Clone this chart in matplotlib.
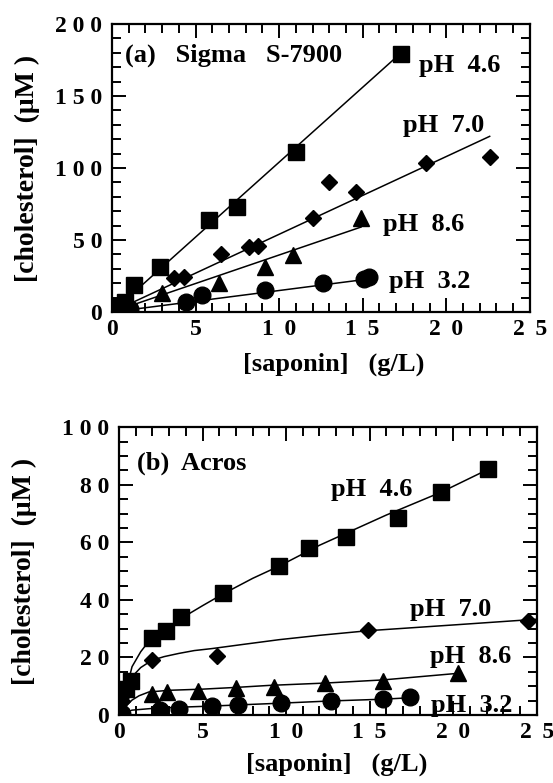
import numpy as np
import matplotlib.pyplot as plt
from matplotlib.ticker import MultipleLocator, FixedLocator, FixedFormatter

plt.rcParams['font.family'] = ['Liberation Serif', 'DejaVu Serif']
plt.rcParams['font.weight'] = 'bold'

# ---- panel (a) Sigma S-7900 ----
a46_x = [0.2, 0.5, 0.8, 1.3, 2.9, 5.8, 7.5, 11.0, 17.3]
a46_y = [1, 4, 7, 18.5, 31.5, 64, 73, 111, 179.5]
a70_x = [0.3, 0.6, 1.0, 3.7, 4.3, 6.5, 8.2, 8.75, 12.0, 13.0, 14.6, 18.8, 22.6]
a70_y = [1, 3, 5, 23.5, 24.5, 40, 45, 46, 65, 90, 83.5, 103.5, 108]
a86_x = [0.4, 1.0, 3.0, 6.4, 9.15, 10.85, 14.9]
a86_y = [1, 4, 13, 20.5, 31.5, 39.5, 65]
a32_x = [0.1, 0.3, 0.6, 1.1, 4.4, 5.4, 9.15, 12.6, 15.1, 15.4]
a32_y = [0, 0.5, 1, 2, 7, 12, 15, 20, 23, 24]
# straight fit lines, from the origin to these ends
a_fit_end = {'4.6': (17.3, 180), '7.0': (22.6, 122), '8.6': (14.9, 59), '3.2': (15.4, 23)}

# ---- panel (b) Acros ----
b46_x = [0.4, 0.7, 1.96, 2.8, 3.7, 6.2, 9.6, 11.4, 13.6, 16.7, 19.3, 22.1]
b46_y = [9, 12, 26.7, 29.3, 34.2, 42.5, 51.8, 57.9, 62, 68.4, 77.6, 85.4]
b70_x = [0.1, 0.2, 0.4, 0.6, 1.96, 5.85, 14.9, 24.5]
b70_y = [2, 5, 8, 11, 19, 20.5, 29.5, 32.8]
b86_x = [0.15, 2.0, 2.9, 4.7, 7.0, 9.25, 12.3, 15.8, 20.3]
b86_y = [1, 7.3, 8.0, 8.5, 9.5, 9.9, 11, 11.9, 14.7]
b32_x = [0.2, 2.45, 3.6, 5.55, 7.1, 9.7, 12.7, 15.8, 17.4]
b32_y = [0.5, 1.8, 2.0, 3.0, 3.5, 4.1, 5.0, 5.5, 6.1]
# fitted curves
b46_cx = [0.02, 0.3, 0.58, 0.78, 1.3, 1.9, 2.8, 3.7, 5.0, 6.2, 8.0, 9.6, 12.0, 16.0, 19.3, 22.1]
b46_cy = [0, 7, 12.2, 16.8, 22, 26.5, 30, 33.5, 38, 42, 47.5, 51.8, 59, 69.5, 77.5, 85.4]
b70_cx = [0.02, 0.3, 0.78, 1.3, 1.96, 2.7, 3.57, 4.5, 5.57, 7.37, 9.6, 12.0, 14.9, 20.0, 25.0]
b70_cy = [1, 8, 13.3, 16.5, 19, 20.3, 21.4, 22.4, 23.1, 24.5, 26.2, 27.7, 29.3, 31.3, 33.3]
b86_cx = [0.02, 0.4, 0.78, 1.2, 1.78, 3.0, 5.0, 7.0, 9.0, 12.3, 15.8, 20.3]
b86_cy = [0.5, 3, 5.2, 6.7, 8.0, 8.6, 9.0, 9.6, 10.3, 11.1, 12.2, 14.5]
b32_cx = [0.1, 0.78, 2.0, 3.5, 5.5, 7.5, 9.6, 12.7, 15.8, 17.4]
b32_cy = [0.3, 1.7, 2.3, 2.7, 3.1, 3.6, 4.1, 4.9, 5.5, 6.0]

x_ticks = [0, 5, 10, 15, 20, 25]
x_labels = ['0', '5', '1 \u20090', '1 \u20095', '2 \u20090', '2 \u20095']
a_yticks = [0, 50, 100, 150, 200]
a_ylabels = ['0', '5 0', '1 0 0', '1 5 0', '2 0 0']
b_yticks = [0, 20, 40, 60, 80, 100]
b_ylabels = ['0', '2 0', '4 0', '6 0', '8 0', '1 0 0']

fig = plt.figure(figsize=(5.53, 7.83), dpi=100)
ax1 = fig.add_axes([0.2025, 0.6015, 0.7555, 0.3678])
ax2 = fig.add_axes([0.2152, 0.0868, 0.7553, 0.3675])

mk = dict(color='black', linestyle='none')
lw_fit = 1.1

# panel a
for key, (xe, ye) in a_fit_end.items():
    ax1.plot([0, xe], [0, ye], color='black', lw=lw_fit)
ax1.plot(a46_x, a46_y, marker='s', ms=12, **mk)
ax1.plot(a70_x, a70_y, marker='D', ms=8, **mk)
ax1.plot(a86_x, a86_y, marker='^', ms=11, **mk)
ax1.plot(a32_x, a32_y, marker='o', ms=12, **mk)

# panel b
ax2.plot(b46_cx, b46_cy, color='black', lw=lw_fit)
ax2.plot(b70_cx, b70_cy, color='black', lw=lw_fit)
ax2.plot(b86_cx, b86_cy, color='black', lw=lw_fit)
ax2.plot(b32_cx, b32_cy, color='black', lw=lw_fit)
ax2.plot(b46_x, b46_y, marker='s', ms=12, **mk)
ax2.plot(b70_x, b70_y, marker='D', ms=8, **mk)
ax2.plot(b86_x, b86_y, marker='^', ms=11, **mk)
ax2.plot(b32_x, b32_y, marker='o', ms=12, **mk)

for ax, yt, yl, ymax, ymin in [(ax1, a_yticks, a_ylabels, 200, 10),
                               (ax2, b_yticks, b_ylabels, 100, 5)]:
    ax.set_xlim(0, 25)
    ax.set_ylim(0, ymax)
    ax.xaxis.set_major_locator(FixedLocator(x_ticks))
    ax.xaxis.set_major_formatter(FixedFormatter(x_labels))
    ax.xaxis.set_minor_locator(MultipleLocator(1))
    ax.yaxis.set_major_locator(FixedLocator(yt))
    ax.yaxis.set_major_formatter(FixedFormatter(yl))
    ax.yaxis.set_minor_locator(MultipleLocator(ymin))
    ax.tick_params(which='both', direction='in', top=True, right=True, width=1.4)
    ax.tick_params(which='major', length=10, labelsize=17)
    ax.tick_params(which='minor', length=6.5)
    ax.tick_params(axis='y', pad=7)
    ax.tick_params(axis='x', pad=5)
    for s in ax.spines.values():
        s.set_linewidth(1.6)
    ax.set_xlabel('[saponin]   (g/L)', fontsize=19, fontweight='bold')
    ax.set_ylabel('[cholesterol]  (\u03bcM )', fontsize=20, fontweight='bold')
    for lab in ax.get_xticklabels() + ax.get_yticklabels():
        lab.set_fontweight('bold')

ax1.yaxis.set_label_coords(-0.172, 0.5)
ax2.yaxis.set_label_coords(-0.196, 0.5)
ax1.xaxis.set_label_coords(0.53, -0.142)
ax2.xaxis.set_label_coords(0.522, -0.13)

tk = dict(fontsize=19, fontweight='bold', va='baseline', ha='left')
ax1.text(0.75, 174, '(a)   Sigma   S-7900', **tk)
ax1.text(18.4, 167, 'pH  4.6', **tk)
ax1.text(17.4, 125, 'pH  7.0', **tk)
ax1.text(16.2, 56, 'pH  8.6', **tk)
ax1.text(16.6, 16.4, 'pH  3.2', **tk)

ax2.text(1.06, 85.2, '(b)  Acros', **tk)
ax2.text(12.7, 76, 'pH  4.6', **tk)
ax2.text(17.4, 34.4, 'pH  7.0', **tk)
ax2.text(18.6, 18, 'pH  8.6', **tk)
ax2.text(18.7, 1.15, 'pH  3.2', **tk)

fig.savefig('out.png', dpi=100)
